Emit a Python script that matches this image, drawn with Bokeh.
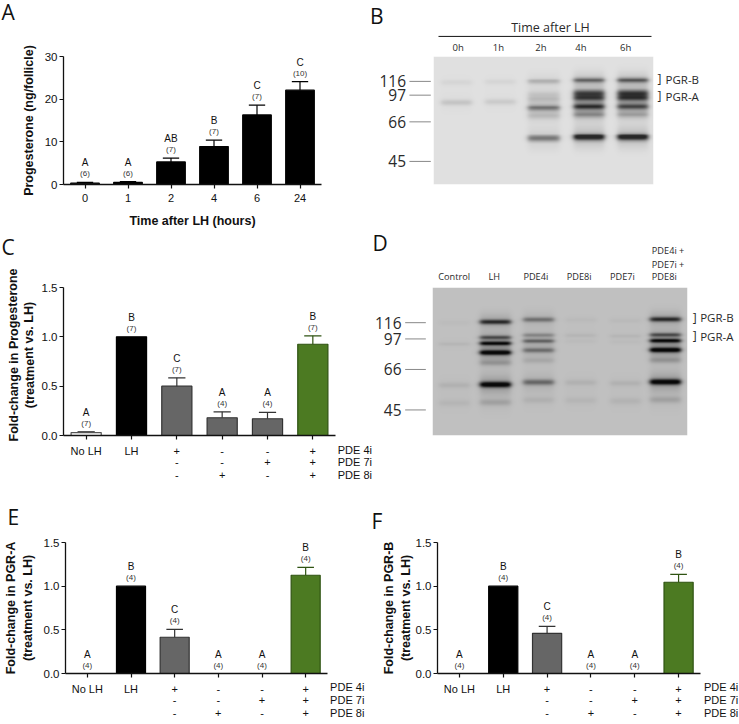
import numpy as np
from bokeh.embed import file_html
from bokeh.resources import INLINE
from bokeh.plotting import figure
from bokeh.layouts import column, row
from bokeh.models import Range1d, FixedTicker, LinearColorMapper
from bokeh.core.properties import value

# ---------- bar panel data ----------
A_ticks = ["0", "1", "2", "4", "6", "24"]
A_values = [0.3, 0.5, 5.3, 8.9, 16.3, 22.1]
A_tops = [0.5, 0.7, 6.2, 10.4, 18.6, 24.1]
A_letters = ["A", "A", "AB", "B", "C", "C"]
A_n = ["(6)", "(6)", "(7)", "(7)", "(7)", "(10)"]

C_values = [0.03, 1.0, 0.5, 0.18, 0.17, 0.925]
C_tops = [0.04, 1.0, 0.585, 0.24, 0.235, 1.01]
C_letters = ["A", "B", "C", "A", "A", "B"]
C_n = ["(7)", "(7)", "(7)", "(4)", "(4)", "(7)"]

E_values = [0, 1.0, 0.415, 0, 0, 1.125]
E_tops = [0, 1.0, 0.505, 0, 0, 1.215]
E_letters = ["A", "B", "C", "A", "A", "B"]
E_n = ["(4)"] * 6

F_values = [0, 1.0, 0.46, 0, 0, 1.045]
F_tops = [0, 1.0, 0.54, 0, 0, 1.135]
F_letters = ["A", "B", "C", "A", "A", "B"]
F_n = ["(4)"] * 6

treat_ticks = ["No LH", "LH", "+", "-", "-", "+"]
pde7_row = ["", "", "-", "-", "+", "+"]
pde8_row = ["", "", "-", "+", "-", "+"]
pde_names = ["PDE 4i", "PDE 7i", "PDE 8i"]

fold_ticks = [0, 0.5, 1.0, 1.5]
fold_tick_labels = ["0.0", "0.5", "1.0", "1.5"]

BLACK = "#000000"
GRAY = "#666666"
GREEN = "#4c7a22"
treat_fill = ["#ffffff", BLACK, GRAY, GRAY, GRAY, GREEN]
treat_line = ["#555555", BLACK, "#333333", "#333333", "#333333", "#2f5312"]

# ---------- gel data (positions in the gel's own length scale) ----------
B_lanes = ["0h", "1h", "2h", "4h", "6h"]
B_label_x = [264, 384, 511, 631, 765]
B_lane_x = [258, 390, 520, 655, 787]
B_lane_shift = [5, 3, 1, -3, -3]
B_band_y = [236, 280, 296, 303, 325, 352, 427]
B_band_sigma = [6, 7, 7, 6, 7, 8, 7]
B_levels = [
    [.05, 0, 0, .13, 0, 0, 0],
    [.05, 0, 0, .10, 0, 0, 0],
    [.22, .10, .12, 0, .48, .14, .48],
    [.58, .60, .62, 0, .78, .34, 1.0],
    [.64, .64, .66, 0, .66, .24, 1.0],
]
B_ladder = ["116", "97", "66", "45"]
B_ladder_y = [238, 284, 373, 505]

D_lanes = ["Control", "LH", "PDE4i", "PDE8i", "PDE7i"]
D_label_x = [250, 370, 495, 625, 755]
D_lane_x = [250, 373, 503, 630, 765, 885]
D_lane_shift = [6, 4, -3, -2, 0, -4]
D_band_y = [301, 348, 366, 394, 425, 491, 545]
D_band_sigma = [5, 4, 4, 5, 6, 6, 7]
D_levels = [
    [.02, 0, .05, 0, 0, .07, .05],
    [.72, .50, .85, 1.0, .18, 1.0, .14],
    [.38, .25, .42, .38, .10, .42, .07],
    [.03, .05, .02, 0, 0, .07, .05],
    [.03, .05, .02, 0, 0, .07, .06],
    [.72, .50, .85, 1.0, .18, 1.0, .14],
]
D_ladder = ["116", "97", "66", "45"]
D_ladder_y = [308, 357, 449, 571]

SANS = "Liberation Sans"
GELF = "Open Sans"


def base(w, h, l, r, t, b):
    p = figure(width=w, height=h, toolbar_location=None, output_backend="svg",
               min_border_left=l, min_border_right=r, min_border_top=t, min_border_bottom=b,
               outline_line_color=None, background_fill_color="#ffffff", border_fill_color="#ffffff")
    p.grid.visible = False
    return p


def letter(p, s, x, y, x_off, y_off):
    p.text(x=[x], y=[y], text=[s], text_font=value(GELF), text_font_size="21px", text_color="#111111",
           text_baseline="middle", text_align="left", x_offset=x_off, y_offset=y_off, level="annotation")


def bars(w, h, l, r, t, b, ymax, yticks, values, tops, letters, ns, ticks, fills, lines, ylabel, ylab_std, tick_text=None):
    p = base(w, h, l, r, t, b)
    xs = [i + 0.5 for i in range(len(values))]
    p.x_range = Range1d(0, 6)
    p.y_range = Range1d(0, ymax)
    bw = 0.665
    p.vbar(x=xs, top=values, width=bw, bottom=0, fill_color=fills, line_color=lines, line_width=1.2)
    keep = [i for i in range(len(values)) if tops[i] > values[i]]
    sx = [xs[i] for i in keep]
    sv = [values[i] for i in keep]
    st = [tops[i] for i in keep]
    sc = [lines[i] for i in keep]
    p.segment(x0=sx, x1=sx, y0=sv, y1=st, line_color=sc, line_width=1.2)
    p.segment(x0=[x - 0.19 for x in sx], x1=[x + 0.19 for x in sx], y0=st, y1=st, line_color=sc, line_width=1.2)
    p.text(x=xs, y=tops, text=ns, text_font=value(SANS), text_font_size="8px", text_color="#333333",
           text_align="center", text_baseline="middle", y_offset=-8.5, level="annotation")
    p.text(x=xs, y=tops, text=letters, text_font=value(SANS), text_font_size="10px", text_color="#111111",
           text_align="center", text_baseline="middle", y_offset=-19.5, level="annotation")
    ax = p.xaxis[0]
    ax.ticker = FixedTicker(ticks=xs)
    ax.major_label_overrides = {x: t for x, t in zip(xs, ticks)}
    yax = p.yaxis[0]
    yax.ticker = FixedTicker(ticks=yticks)
    if tick_text:
        yax.major_label_overrides = {k: t for k, t in zip(yticks, tick_text)}
    for a in (ax, yax):
        a.minor_tick_line_color = None
        a.major_tick_in = 0
        a.major_tick_out = 4
        a.axis_line_width = 1.3
        a.major_tick_line_width = 1.2
        a.axis_line_color = "#111111"
        a.major_tick_line_color = "#111111"
        a.major_label_text_font = SANS
        a.major_label_text_color = "#111111"
        a.axis_label_text_font = SANS
        a.axis_label_text_font_style = "bold"
        a.axis_label_text_font_size = "12.5px"
        a.axis_label_text_color = "#111111"
    ax.major_label_text_font_size = "11px"
    yax.major_label_text_font_size = "11.5px"
    ax.major_label_standoff = 5
    yax.major_label_standoff = 2
    if ylabel:
        yax.axis_label = ylabel
        yax.axis_label_standoff = ylab_std
    return p


def treat_rows(p, rows_y, name_x):
    xs = [i + 0.5 for i in range(6)]
    for row_vals, off in zip((pde7_row, pde8_row), rows_y[1:]):
        p.text(x=xs, y=[0] * 6, text=row_vals, text_font=value(SANS), text_font_size="11px",
               text_color="#111111", text_align="center", text_baseline="middle", y_offset=off, level="annotation")
    for nm, off in zip(pde_names, rows_y):
        p.text(x=[name_x], y=[0], text=[nm], text_font=value(SANS), text_font_size="11px",
               text_color="#111111", text_align="left", text_baseline="middle", y_offset=off, level="annotation")


def gel(cell, box, zoom_origin, lane_x, shifts, half, band_y, sigmas, levels, bg, dark):
    cx, cy, w, h = cell
    l, r, t, b = box
    zx, zy = zoom_origin
    left = round(zx + l / 3 - cx)
    right = round(cx + w - (zx + r / 3))
    top = round(zy + t / 3 - cy)
    bottom = round(cy + h - (zy + b / 3))
    p = base(w, h, left, right, top, bottom)
    p.x_range = Range1d(l, r)
    p.y_range = Range1d(-b, -t)
    p.xaxis.visible = False
    p.yaxis.visible = False
    ny = int((b - t) / 3)
    nx = int((r - l) / 3)
    X, Y = np.meshgrid(np.linspace(l, r, nx), np.linspace(t, b, ny))
    dens = np.zeros_like(X)
    for lx, sh, lev in zip(lane_x, shifts, levels):
        lane = 0.5 * (np.tanh((X - lx + half) / 9) - np.tanh((X - lx - half) / 9))
        for y0, s, v in zip(band_y, sigmas, lev):
            dy = Y - y0 - sh
            dens += lane * v * (np.exp(-(dy / s) ** 2 / 2) + 0.2 * np.exp(-(dy / (3.5 * s)) ** 2 / 2))
    img = bg - (bg - dark) * np.clip(dens, 0, 1)
    mapper = LinearColorMapper(palette=[f"#{v:02x}{v:02x}{v:02x}" for v in range(256)], low=0, high=255)
    p.image(image=[np.flipud(img)], x=l, y=-b, dw=r - l, dh=b - t, color_mapper=mapper)
    return p


def gel_text(p, x, y, t, size, align="left", color="#2a2a2a", font=GELF):
    p.text(x=x, y=y, text=t, text_font=value(font), text_font_size=size, text_color=color,
           text_align=align, text_baseline="middle", level="annotation")


# ---------- A ----------
a = bars(368, 230, 63, 47, 56, 46, 30, [0, 10, 20, 30], A_values, A_tops, A_letters, A_n, A_ticks,
         [BLACK] * 6, [BLACK] * 6, "Progesterone (ng/follicle)", 6)
a.xaxis[0].axis_label = "Time after LH (hours)"
a.xaxis[0].axis_label_standoff = 9
letter(a, "A", 0, 30, -62, -45)

# ---------- B ----------
b = gel((368, 0, 371, 230), (190, 848, 155, 582), (370, 0), B_lane_x, B_lane_shift, 46,
        B_band_y, B_band_sigma, B_levels, 224, 40)
gel_text(b, [540], [-59], ["Time after LH"], "12.5px", "center")
b.segment(x0=[205], x1=[842], y0=[-88], y1=[-88], line_color="#111111", line_width=1, level="annotation")
gel_text(b, B_label_x, [-126] * 5, B_lanes, "9.5px", "center")
gel_text(b, [108] * 4, [-y for y in B_ladder_y], B_ladder, "15.5px", "right")
b.segment(x0=[118] * 4, x1=[182] * 4, y0=[-y for y in B_ladder_y], y1=[-y for y in B_ladder_y],
          line_color="#888888", line_width=1, level="annotation")
gel_text(b, [860, 860], [-230, -286], ["]", "]"], "12px")
gel_text(b, [884, 884], [-231, -287], ["PGR-B", "PGR-A"], "11.5px")
letter(b, "B", 190, -155, -63.5, -41)

# ---------- C ----------
c = bars(372, 260, 63, 37, 54, 55, 1.5, fold_ticks, C_values, C_tops, C_letters, C_n, treat_ticks,
         treat_fill, treat_line, None, 0, fold_tick_labels)
treat_rows(c, [14.3, 26.7, 39.3], 6.05)
for line, off in (("Fold-change in Progesterone", -50), ("(treatment vs. LH)", -34)):
    c.text(x=[0], y=[0.75], text=[line], angle=[np.pi / 2], text_font=value(SANS), text_font_style="bold",
           text_font_size="12.5px", text_color="#111111", text_align="center", text_baseline="middle",
           x_offset=off, y_offset=-6.5, level="annotation")
letter(c, "C", 0, 1.5, -62, -41)

# ---------- D ----------
d = gel((372, 230, 367, 260), (185, 950, 202, 648), (370, 220), D_lane_x, D_lane_shift, 46,
        D_band_y, D_band_sigma, D_levels, 192, 8)
gel_text(d, D_label_x, [-170] * 5, D_lanes, "9.2px", "center")
gel_text(d, [843] * 3, [-92, -132, -170], ["PDE4i +", "PDE7i +", "PDE8i"], "9.2px")
gel_text(d, [92] * 4, [-y for y in D_ladder_y], D_ladder, "15.5px", "right")
d.segment(x0=[103] * 4, x1=[165] * 4, y0=[-y for y in D_ladder_y], y1=[-y for y in D_ladder_y],
          line_color="#888888", line_width=1, level="annotation")
gel_text(d, [966, 966], [-292, -348], ["]", "]"], "12px")
gel_text(d, [988, 988], [-293, -349], ["PGR-B", "PGR-A"], "11.5px")
letter(d, "D", 185, -202, -60, -45)

# ---------- E ----------
e = bars(368, 234, 59, 41, 52, 45, 1.5, fold_ticks, E_values, E_tops, E_letters, E_n, treat_ticks,
         treat_fill, treat_line, "Fold-change in PGR-A\n(treatment vs. LH)", 6, fold_tick_labels)
treat_rows(e, [13.3, 26.3, 39.7], 6.06)
letter(e, "E", 0, 1.5, -58, -25.5)

# ---------- F ----------
f = bars(371, 234, 69, 39, 48, 51, 1.5, fold_ticks, F_values, F_tops, F_letters, F_n, treat_ticks,
         treat_fill, treat_line, "Fold-change in PGR-B\n(treatment vs. LH)", 0, fold_tick_labels)
treat_rows(f, [13, 26, 39.5], 6.08)
letter(f, "F", 0, 1.5, -66, -21.5)

page = column(row(a, b), row(c, d), row(e, f))
open("out.html", "w").write(file_html(page, INLINE))
